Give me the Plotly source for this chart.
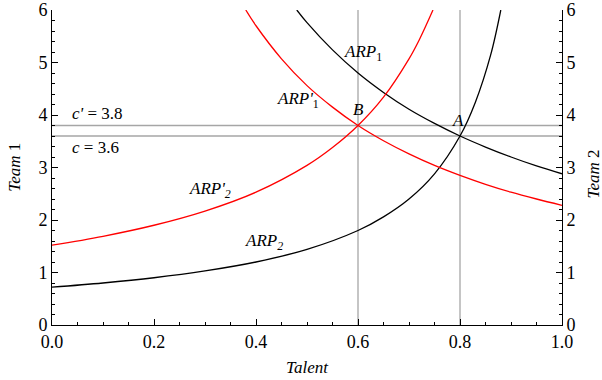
import plotly.graph_objects as go

# ---- data ----
arp1_x = [0.48, 0.50, 0.55, 0.60, 0.65, 0.70, 0.75, 0.80, 0.85, 0.90, 0.95, 1.00]
arp1_y = [6.00, 5.76, 5.24, 4.80, 4.43, 4.11, 3.84, 3.60, 3.39, 3.20, 3.03, 2.88]

arp1p_x = [0.38, 0.40, 0.45, 0.50, 0.55, 0.60, 0.65, 0.70, 0.75, 0.80, 0.85, 0.90, 0.95, 1.00]
arp1p_y = [6.00, 5.70, 5.07, 4.56, 4.15, 3.80, 3.51, 3.26, 3.04, 2.85, 2.68, 2.53, 2.40, 2.28]

arp2_x = [0.00, 0.10, 0.20, 0.30, 0.40, 0.50, 0.60, 0.65, 0.70, 0.75, 0.80, 0.83, 0.86, 0.88]
arp2_y = [0.72, 0.80, 0.90, 1.03, 1.20, 1.44, 1.80, 2.06, 2.40, 2.88, 3.60, 4.24, 5.14, 6.00]

arp2p_x = [0.00, 0.10, 0.20, 0.30, 0.40, 0.50, 0.55, 0.60, 0.65, 0.70, 0.72, 0.747]
arp2p_y = [1.52, 1.69, 1.90, 2.17, 2.53, 3.04, 3.38, 3.80, 4.34, 5.07, 5.43, 6.00]

c_values = [3.6, 3.8]          # horizontal cost lines
talent_marks = [0.6, 0.8]      # vertical equilibrium lines
x_range = [0.0, 1.0]
y_range = [0.0, 6.0]

labels = [
    ("<i>ARP</i><sub>1</sub>", 0.609, 5.18),
    ("<i>ARP'</i><sub>1</sub>", 0.483, 4.29),
    ("<i>B</i>", 0.601, 4.10),
    ("<i>A</i>", 0.796, 3.89),
    ("<i>ARP'</i><sub><i>2</i></sub>", 0.310, 2.57),
    ("<i>ARP</i><sub><i>2</i></sub>", 0.415, 1.58),
    ("<i>c'</i> = 3.8", 0.089, 4.02),
    ("<i>c</i> = 3.6", 0.085, 3.39),
]

FONT = "Times New Roman, Times, Liberation Serif, Tinos, Nimbus Roman, DejaVu Serif, serif"
GRAY = "#a6a6a6"

fig = go.Figure()

for c in c_values:
    fig.add_trace(go.Scatter(x=x_range, y=[c, c], mode="lines",
                             line=dict(color=GRAY, width=1.3), hoverinfo="skip", showlegend=False))
for t in talent_marks:
    fig.add_trace(go.Scatter(x=[t, t], y=y_range, mode="lines",
                             line=dict(color=GRAY, width=1.3), hoverinfo="skip", showlegend=False))

for xs, ys, col in [(arp1_x, arp1_y, "black"), (arp2_x, arp2_y, "black"),
                    (arp1p_x, arp1p_y, "#ff0000"), (arp2p_x, arp2p_y, "#ff0000")]:
    fig.add_trace(go.Scatter(x=xs, y=ys, mode="lines", line=dict(color=col, width=1.3, shape="spline"),
                             showlegend=False))

# invisible trace to activate the right axis
fig.add_trace(go.Scatter(x=[0], y=[0], yaxis="y2", mode="markers", marker=dict(opacity=0),
                         showlegend=False, hoverinfo="skip"))

for txt, x, y in labels:
    fig.add_annotation(x=x, y=y, text=txt, showarrow=False,
                       font=dict(family=FONT, size=17, color="black"))

fig.add_annotation(xref="paper", yref="paper", x=-0.074, y=0.50, xanchor="center", yanchor="middle",
                   text="<i>Team</i> 1", textangle=-90,
                   showarrow=False, font=dict(family=FONT, size=17, color="black"))
fig.add_annotation(xref="paper", yref="paper", x=1.062, y=0.48, xanchor="center", yanchor="middle",
                   text="<i>Team</i> 2", textangle=-90,
                   showarrow=False, font=dict(family=FONT, size=17, color="black"))

axis_common = dict(showgrid=False, zeroline=False, showline=True, linecolor="black", linewidth=1,
                   ticks="inside", ticklen=6, tickcolor="black", tickwidth=1, automargin=False,
                   tickfont=dict(family=FONT, size=18, color="black"))

fig.update_layout(
    width=602, height=380,
    margin=dict(l=52, r=40, t=10, b=55),
    paper_bgcolor="white", plot_bgcolor="white",
    font=dict(family=FONT, color="black"),
    xaxis=dict(range=x_range, dtick=0.2, tickformat=".1f",
               minor=dict(dtick=0.05, ticks="inside", ticklen=3, tickcolor="black"),
               title=dict(text="<i>Talent</i>", font=dict(family=FONT, size=17, color="black"), standoff=10),
               **axis_common),
    yaxis=dict(range=y_range, dtick=1,
               minor=dict(dtick=0.2, ticks="inside", ticklen=3, tickcolor="black"),
               **axis_common),
    yaxis2=dict(range=y_range, dtick=1, overlaying="y", side="right",
                minor=dict(dtick=0.2, ticks="inside", ticklen=3, tickcolor="black"),
                **axis_common),
)

fig.write_html("out.html")
